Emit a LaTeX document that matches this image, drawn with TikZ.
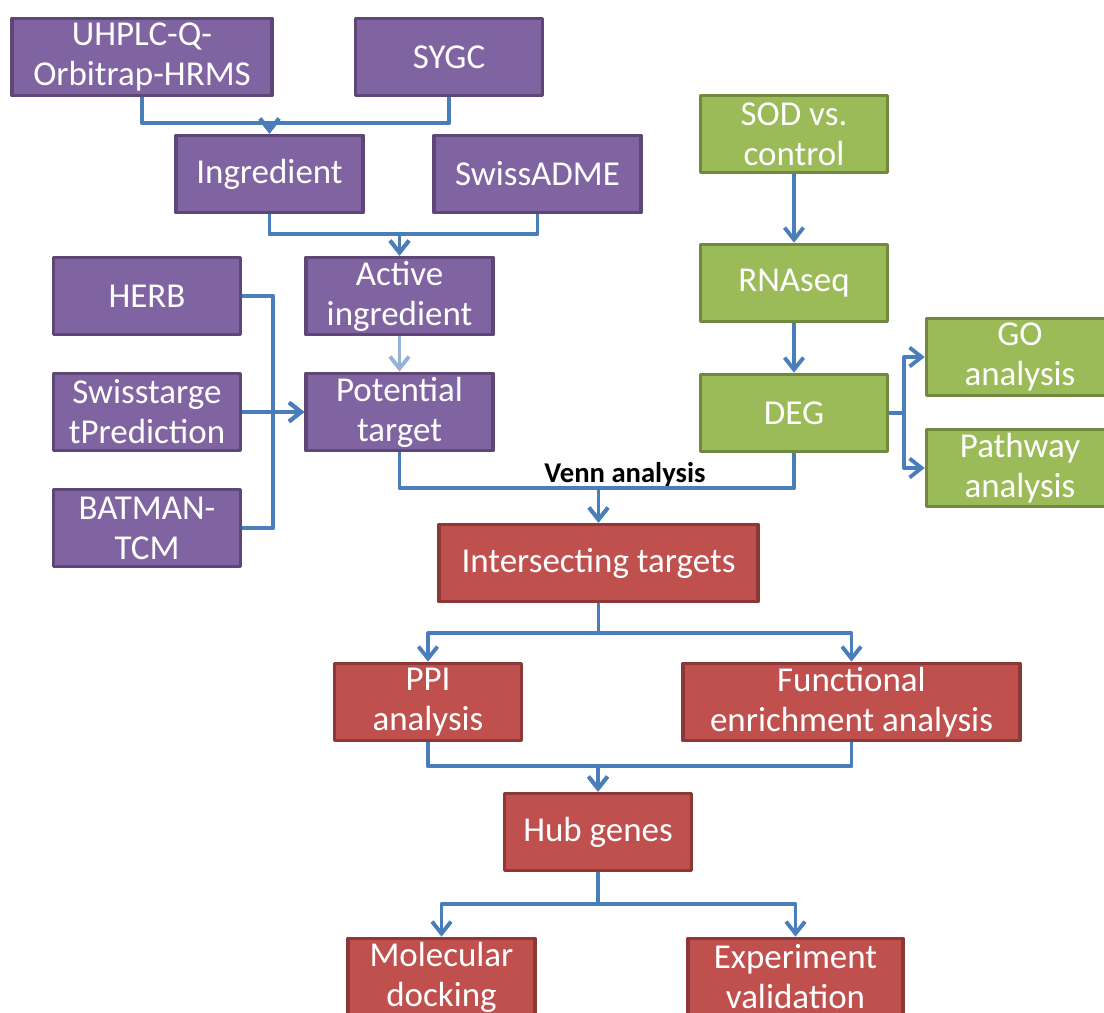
\documentclass[tikz,border=0pt]{standalone}
\usepackage{fontspec}
\setmainfont{Carlito}
\usetikzlibrary{arrows.meta}
\definecolor{purp}{HTML}{8064A2}
\definecolor{purpd}{HTML}{5C4776}
\definecolor{grn}{HTML}{9BBB59}
\definecolor{grnd}{HTML}{71893F}
\definecolor{rd}{HTML}{C0504D}
\definecolor{rdd}{HTML}{8C3836}
\definecolor{arr}{HTML}{4A7EBB}
\definecolor{arrl}{HTML}{95B3D7}
\begin{document}
\begin{tikzpicture}[x=0.02cm,y=-0.02cm,line join=round,
  box/.style={draw,line width=2.1pt,text=white,align=center,inner sep=0pt,
    font=\fontsize{19.9}{22.8}\selectfont,minimum height=1.54cm,minimum width=3.74cm},
  pbox/.style={box,fill=purp,draw=purpd},
  gbox/.style={box,fill=grn,draw=grnd},
  rbox/.style={box,fill=rd,draw=rdd},
  conn/.style={draw=arr,line width=2.2pt,-{Straight Barb[length=0.24cm,width=0.38cm]}},
  vhv/.style={to path={-- ++(0,#1) -| (\tikztotarget)}},
  hvh/.style={to path={-- ++(#1,0) |- (\tikztotarget)}}]
\useasboundingbox (0,0) rectangle (1104,1012);
\clip (0,0) rectangle (1104,1012);
\node[pbox,minimum width=5.2cm] (uhplc) at (142,57) {UHPLC-Q-\\Orbitrap-HRMS};
\node[pbox] (sygc) at (449,57) {SYGC};
\node[pbox] (ingr) at (269.5,174) {Ingredient};
\node[pbox,minimum width=4.14cm] (sadme) at (537.5,174) {SwissADME};
\node[pbox] (active) at (399.5,296) {Active\\ingredient};
\node[pbox] (pot) at (399.5,412) {Potential\\target};
\node[pbox] (herb) at (147,296) {HERB};
\node[pbox] (stp) at (147,412) {Swisstarge\\tPrediction};
\node[pbox] (batman) at (147,528) {BATMAN-\\TCM};
\node[gbox] (sod) at (794,134) {SOD vs.\\control};
\node[gbox] (rna) at (794,283) {RNAseq};
\node[gbox] (deg) at (794,413) {DEG};
\node[gbox] (go) at (1020,357) {GO\\analysis};
\node[gbox] (path) at (1020,468) {Pathway\\analysis};
\node[rbox,minimum width=6.38cm] (inter) at (598.5,563) {Intersecting targets};
\node[rbox] (ppi) at (428,702) {PPI\\analysis};
\node[rbox,minimum width=6.74cm] (func) at (851.5,702) {Functional\\enrichment analysis};
\node[rbox] (hub) at (598,832) {Hub genes};
\node[rbox] (dock) at (441.5,977) {Molecular\\docking};
\node[rbox,minimum width=4.3cm] (exper) at (795.5,977) {Experiment\\validation};
\node[font=\fontsize{16.3}{19}\selectfont\bfseries] (venn) at (625,475) {Venn analysis};
\draw[conn] (uhplc.south) to[vhv=26] (ingr.north);
\draw[conn] (sygc.south) to[vhv=26] (ingr.north);
\draw[conn] (ingr.south) to[vhv=20] (active.north);
\draw[conn] (sadme.south) to[vhv=20] (active.north);
\draw[conn,draw=arrl] (active) -- (pot);
\draw[conn] (herb.east) to[hvh=31] (pot.west);
\draw[conn] (stp) -- (pot);
\draw[conn] (batman.east) to[hvh=31] (pot.west);
\draw[conn] (sod) -- (rna);
\draw[conn] (rna) -- (deg);
\draw[conn] (deg.east) to[hvh=15] (go.west);
\draw[conn] (deg.east) to[hvh=15] (path.west);
\draw[conn] (pot.south) to[vhv=36] (inter.north);
\draw[conn] (deg.south) to[vhv=35] (inter.north);
\draw[conn] (inter.south) to[vhv=30] (ppi.north);
\draw[conn] (inter.south) to[vhv=30] (func.north);
\draw[conn] (ppi.south) to[vhv=24] (hub.north);
\draw[conn] (func.south) to[vhv=24] (hub.north);
\draw[conn] (hub.south) to[vhv=32] (dock.north);
\draw[conn] (hub.south) to[vhv=32] (exper.north);
\end{tikzpicture}
\end{document}
